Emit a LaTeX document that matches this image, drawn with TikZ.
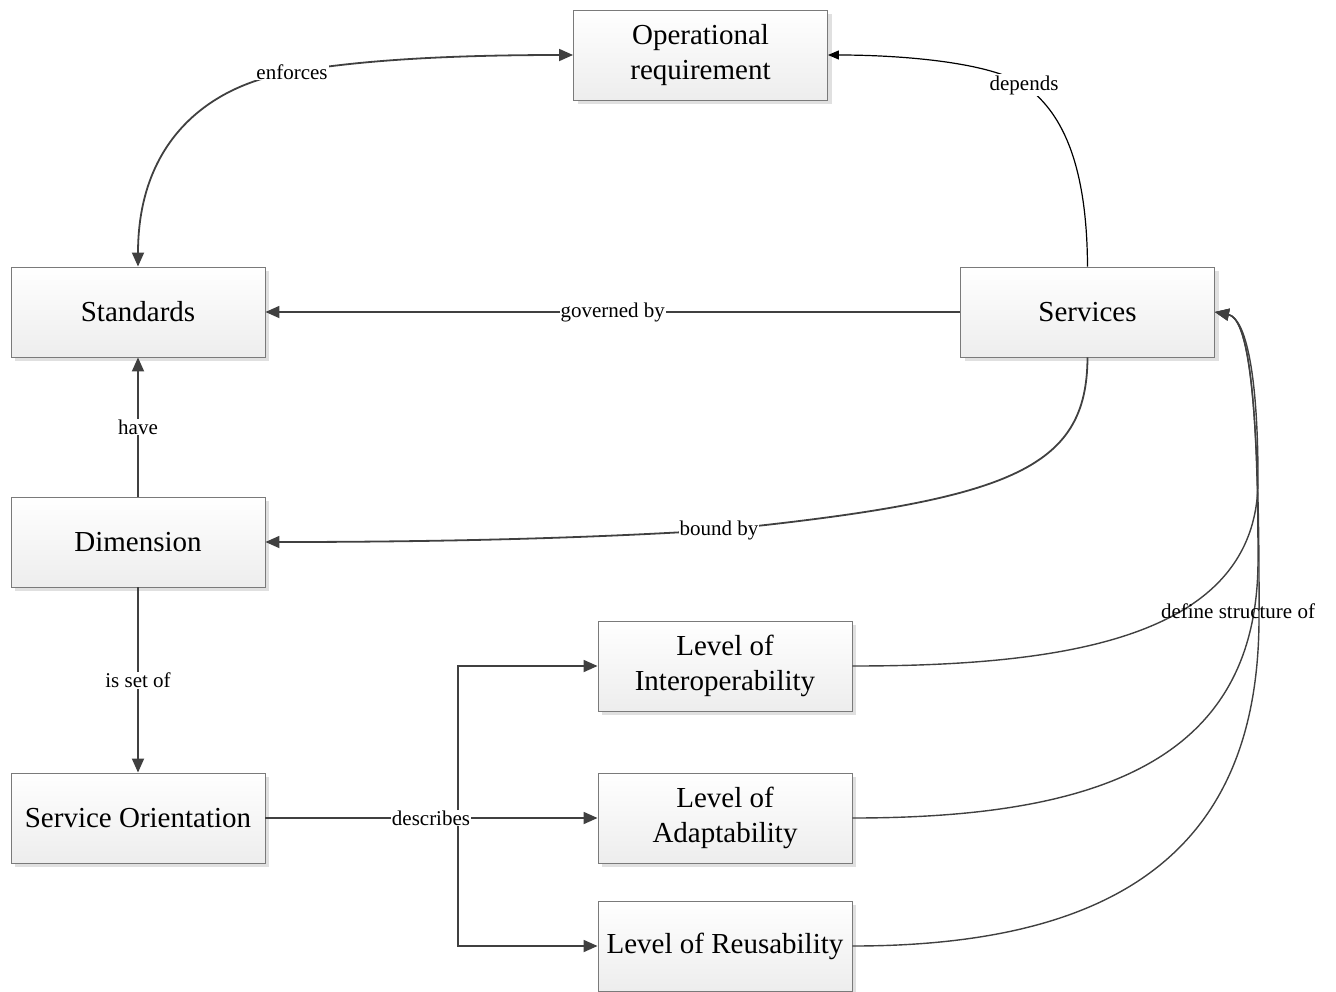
\documentclass[tikz,border=0pt]{standalone}
\usepackage{fontspec}
\setmainfont{Liberation Serif}
\usetikzlibrary{arrows.meta,shadows}

\definecolor{edgegray}{HTML}{404040}
\definecolor{boxline}{HTML}{7A7A7A}
\definecolor{boxbottom}{HTML}{EDEDED}
\definecolor{shadowgray}{HTML}{E0E0E0}

\tikzset{
  concept/.style={rectangle, draw=boxline, line width=0.9pt,
    top color=white, bottom color=boxbottom,
    minimum width=254pt, minimum height=90pt, inner sep=0pt,
    align=center, font=\fontsize{29}{35}\selectfont,
    drop shadow={shadow xshift=4pt, shadow yshift=-4pt, fill=shadowgray, opacity=1}},
  edge/.style={draw=edgegray, line width=1.8pt,
    -{Triangle[length=14pt,width=12pt]}},
  twoway/.style={draw=edgegray, line width=1.8pt,
    {Triangle[length=14pt,width=12pt]}-{Triangle[length=14pt,width=12pt]}},
  thinedge/.style={draw=black, line width=1.2pt,
    -{Triangle[length=11pt,width=9pt]}},
  curveedge/.style={draw=edgegray, line width=1.4pt,
    -{Triangle[length=14pt,width=12pt]}},
  lbl/.style={fill=white, inner sep=1pt, font=\fontsize{21}{24}\selectfont},
}

\begin{document}
\begin{tikzpicture}[x=1pt, y=-1pt]
\useasboundingbox (0,0) rectangle (1336,991);

% concept boxes
\node[concept] (opr)  at (700.5,55)  {Operational\\requirement};
\node[concept] (std)  at (138,312)   {Standards};
\node[concept] (srv)  at (1087.5,312) {Services};
\node[concept] (dim)  at (138,542)   {Dimension};
\node[concept] (so)   at (138,818)   {Service Orientation};
\node[concept] (loi)  at (725,666)   {Level of\\Interoperability};
\node[concept] (loa)  at (725,818)   {Level of\\Adaptability};
\node[concept] (lor)  at (725,946)   {Level of Reusability};

% operational requirement <-> standards
\draw[twoway] (opr.west) .. controls (450,55) and (360,60) .. (292,72)
  node[lbl] {enforces}
  .. controls (210,85) and (138,140) .. (std.north);

% services depend on operational requirement
\draw[thinedge] (srv.north) .. controls (1087,160) and (1060,110) .. (1024,85)
  node[lbl] {depends}
  .. controls (990,62) and (900,55) .. (opr.east);

% straight relations
\draw[edge] (srv.west) -- node[lbl] {governed by} (std.east);
\draw[edge] (dim.north) -- node[lbl] {have} (std.south);
\draw[edge] (dim.south) -- node[lbl] {is set of} (so.north);

% services bound by dimension
\draw[edge] (srv.south) .. controls (1087,470) and (1010,500) .. (719,530)
  node[lbl] {bound by}
  .. controls (560,540) and (400,542) .. (dim.east);

% service orientation describes the three levels
\coordinate (fork) at (458,818);
\draw[edge] (so.east) -- (fork) |- (loi.west);
\draw[edge] (so.east) -- (loa.west);
\draw[edge] (so.east) -- (fork) |- (lor.west);
\node[lbl] (describes) at (431,818) {describes};

% levels define structure of services
\draw[curveedge] (loi.east) .. controls (1060,666) and (1258,640) .. (1258,480)
  .. controls (1258,370) and (1245,318) .. (srv.east);
\draw[curveedge] (loa.east) .. controls (1100,818) and (1258,760) .. (1258,560)
  .. controls (1258,380) and (1246,318) .. (srv.east);
\draw[curveedge] (lor.east) .. controls (1130,946) and (1258,840) .. (1259,620)
  .. controls (1260,390) and (1247,318) .. (srv.east);
\node[lbl, fill=none] (dso) at (1238,611) {define structure of};

\end{tikzpicture}
\end{document}
